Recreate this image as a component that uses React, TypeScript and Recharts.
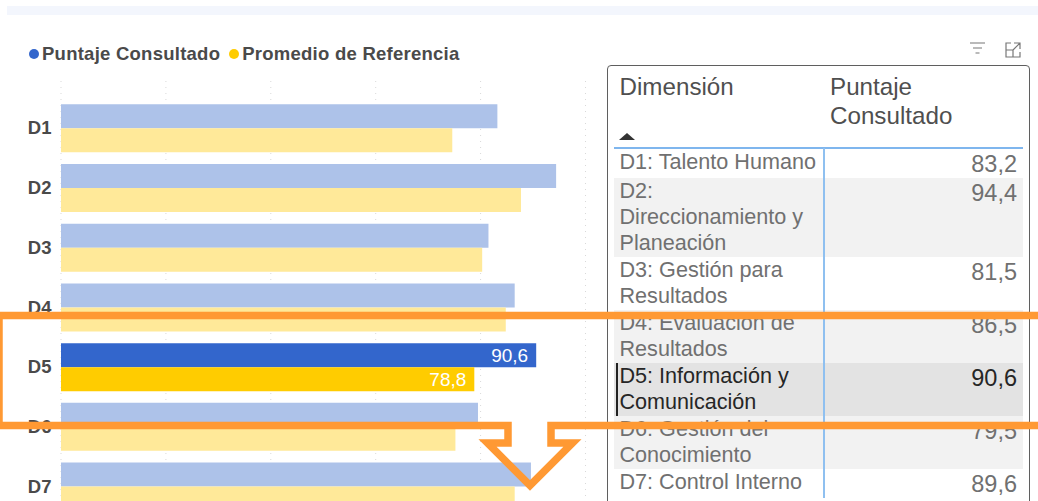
import { Bar, BarChart, CartesianGrid, Cell, LabelList, XAxis, YAxis } from 'recharts';

const dimensions = ['D1', 'D2', 'D3', 'D4', 'D5', 'D6', 'D7'];
const consultedScores = [83.2, 94.4, 81.5, 86.5, 90.6, 79.5, 89.6];
const referenceScores = [74.6, 87.7, 80.3, 84.8, 78.8, 75.2, 86.5];
const selected = 'D5';

const tableLabels = [
  ['D1: Talento Humano'],
  ['D2:', 'Direccionamiento y', 'Planeación'],
  ['D3: Gestión para', 'Resultados'],
  ['D4: Evaluación de', 'Resultados'],
  ['D5: Información y', 'Comunicación'],
  ['D6: Gestión del', 'Conocimiento'],
  ['D7: Control Interno']
];
const tableScores = ['83,2', '94,4', '81,5', '86,5', '90,6', '79,5', '89,6'];
const rowHeights = [29, 79, 53, 53, 53, 53, 40];

const chartData = dimensions.map((name, i) => ({
  name,
  consulted: consultedScores[i],
  reference: referenceScores[i]
}));

const colors = { consulted: '#3366cc', reference: '#ffcc00' };
const faded = { consulted: '#adc2e9', reference: '#ffe999' };
const font = "'Liberation Sans', Arial, sans-serif";

const formatValue = (value: number) => value.toFixed(1).replace('.', ',');

const SelectedLabel = ({ x, y, width, height, value, index }: any) =>
  dimensions[index] === selected ? (
    <text
      x={x + width - 8}
      y={y + height / 2 + 6.5}
      textAnchor="end"
      fill="#fff"
      fontSize={19}
      fontFamily={font}
    >
      {formatValue(value)}
    </text>
  ) : null;

const LegendRow = () => (
  <div
    style={{
      position: 'absolute',
      left: 29,
      top: 43,
      display: 'flex',
      alignItems: 'center',
      fontFamily: font,
      fontWeight: 700,
      fontSize: 18.5,
      letterSpacing: 0.25,
      color: '#4a4a4a',
      whiteSpace: 'nowrap'
    }}
  >
    <span style={{ width: 10, height: 10, borderRadius: 5, background: colors.consulted, marginRight: 3 }} />
    <span style={{ marginRight: 9 }}>Puntaje Consultado</span>
    <span style={{ width: 10, height: 10, borderRadius: 5, background: colors.reference, marginRight: 3 }} />
    <span>Promedio de Referencia</span>
  </div>
);

const ScoreTable = () => (
  <div
    style={{
      position: 'absolute',
      left: 607,
      top: 65,
      width: 423,
      height: 460,
      boxSizing: 'border-box',
      border: '1.5px solid #5f5f5f',
      borderRadius: 4,
      fontFamily: font,
      overflow: 'hidden'
    }}
  >
    <div style={{ position: 'absolute', left: 11.5, top: 6, fontSize: 24.2, lineHeight: '29px', color: '#4f4f4f' }}>
      Dimensión
    </div>
    <div style={{ position: 'absolute', left: 222, top: 6, fontSize: 24.2, lineHeight: '29px', color: '#4f4f4f' }}>
      Puntaje
      <br />
      Consultado
    </div>
    <div
      style={{
        position: 'absolute',
        left: 11,
        top: 67,
        width: 0,
        height: 0,
        borderLeft: '8px solid transparent',
        borderRight: '8px solid transparent',
        borderBottom: '7px solid #333'
      }}
    />
    <div style={{ position: 'absolute', left: 6, right: 6, top: 81, height: 1.5, background: '#7fb6ee' }} />
    <div style={{ position: 'absolute', left: 6, right: 6, top: 82.5 }}>
      {tableLabels.map((lines, i) => {
        const isSelected = dimensions[i] === selected;
        const bg = isSelected ? '#e3e3e3' : i % 2 === 1 ? '#f2f2f2' : 'transparent';
        return (
          <div key={i} style={{ position: 'relative', height: rowHeights[i], background: bg }}>
            {isSelected && (
              <div style={{ position: 'absolute', left: 2, top: 0, bottom: 0, width: 2, background: '#222' }} />
            )}
            <div
              style={{
                position: 'absolute',
                left: 5.5,
                top: 0,
                fontSize: 21.6,
                lineHeight: '26px',
                color: isSelected ? '#262626' : '#707070',
                whiteSpace: 'nowrap'
              }}
            >
              {lines.map((line) => (
                <div key={line}>{line}</div>
              ))}
            </div>
            <div
              style={{
                position: 'absolute',
                right: 6,
                top: 1,
                fontSize: 23.5,
                lineHeight: '28px',
                color: isSelected ? '#262626' : '#707070'
              }}
            >
              {tableScores[i]}
            </div>
          </div>
        );
      })}
    </div>
    <div style={{ position: 'absolute', left: 215, top: 82, height: 350, width: 1.5, background: '#8fc0f0' }} />
  </div>
);

const HeaderIcons = () => (
  <svg style={{ position: 'absolute', left: 0, top: 0 }} width={1038} height={80} fill="none">
    <g stroke="#777" strokeWidth={1.2}>
      <path d="M970 43h15M973 48h9M975.5 53h4" />
      <path d="M1011 43h-5v14h14v-5M1014 43h6v6M1020 43l-7 7M1006 50h7v7" />
    </g>
  </svg>
);

const Callout = () => (
  <svg style={{ position: 'absolute', left: 0, top: 0 }} width={1038} height={501} fill="none">
    <path
      d="M1040 315.5H-1V425.5H508V443H487.5L530 485.5L572.5 443H551V425.5H1040"
      stroke="#ff9933"
      strokeWidth={7.5}
      strokeLinejoin="miter"
    />
  </svg>
);

export default function App() {
  return (
    <div
      style={{
        position: 'absolute',
        left: 0,
        top: 0,
        width: 1038,
        height: 501,
        overflow: 'hidden',
        background: '#fff'
      }}
    >
      <div style={{ position: 'absolute', left: 7, top: 6, right: 0, height: 9, background: '#f3f6fd' }} />
      <LegendRow />
      <div style={{ position: 'absolute', left: 0, top: 0 }}>
        <BarChart
          width={600}
          height={520}
          data={chartData}
          layout="vertical"
          margin={{ top: 81, right: 14.5, bottom: 4, left: 0 }}
          barCategoryGap="10.5%"
          barGap={0}
        >
          <CartesianGrid horizontal={false} stroke="#d9d9d9" strokeDasharray="1 5" />
          <XAxis type="number" domain={[0, 100]} ticks={[0, 20, 40, 60, 80, 100]} hide />
          <YAxis
            type="category"
            dataKey="name"
            width={61}
            axisLine={false}
            tickLine={false}
            padding={{ top: 17, bottom: 0 }}
            tick={{ fontSize: 18.5, fontWeight: 700, fill: '#4a4a4a', fontFamily: font, dx: -1.5 }}
          />
          <Bar dataKey="consulted" fill={faded.consulted} isAnimationActive={false}>
            {chartData.map((row) => (
              <Cell key={row.name} fill={row.name === selected ? colors.consulted : faded.consulted} />
            ))}
            <LabelList dataKey="consulted" content={SelectedLabel} />
          </Bar>
          <Bar dataKey="reference" fill={faded.reference} isAnimationActive={false}>
            {chartData.map((row) => (
              <Cell key={row.name} fill={row.name === selected ? colors.reference : faded.reference} />
            ))}
            <LabelList dataKey="reference" content={SelectedLabel} />
          </Bar>
        </BarChart>
      </div>
      <HeaderIcons />
      <ScoreTable />
      <Callout />
    </div>
  );
}
